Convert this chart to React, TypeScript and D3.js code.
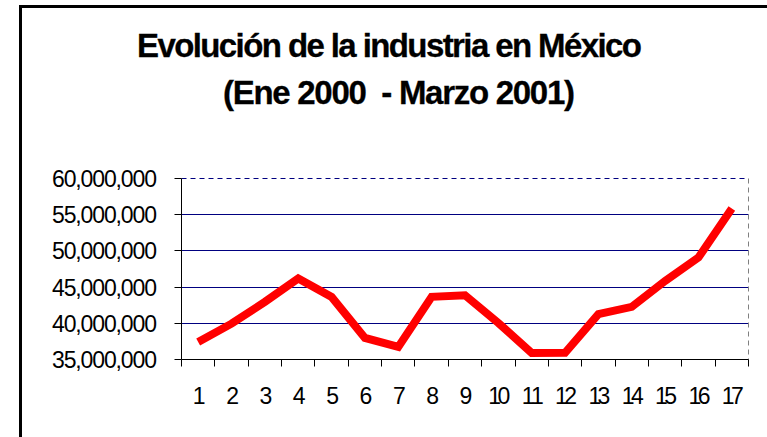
import React from "react";
import * as d3 from "d3";

const categories = ["1","2","3","4","5","6","7","8","9","10","11","12","13","14","15","16","17"];
const values = [37.43, 39.95, 42.96, 46.19, 43.65, 37.98, 36.74, 43.65, 43.88, 40.05, 35.91, 35.93, 41.26, 42.27, 45.86, 49.09, 55.86].map(v => v * 1e6);
const yTicks = [35e6, 40e6, 45e6, 50e6, 55e6, 60e6];
const titleLines = ["Evolución de la industria en México", "(Ene 2000  - Marzo 2001)"];

export default function App() {
  const W = 767, H = 437;
  const left = 181.5, right = 748.5, top = 178.5, bottom = 359.5;
  const x = d3.scaleBand<string>().domain(categories).range([left, right]).padding(0);
  const y = d3.scaleLinear().domain([35e6, 60e6]).range([bottom, top]);
  const fmt = d3.format(",");
  const line = d3.line<number>()
    .x((_, i) => (x(categories[i]) as number) + x.bandwidth() / 2)
    .y(d => y(d));
  const boundaries = d3.range(categories.length + 1).map(i => left + i * x.bandwidth());
  const snap = (v: number) => Math.round(v - 0.5) + 0.5;
  return (
    <svg width={W} height={H} style={{ position: "absolute", left: 0, top: 0, background: "#fff" }}
      fontFamily="'Liberation Sans', Arial, sans-serif">
      <rect x={0} y={0} width={W} height={H} fill="#fff" />
      <rect x={20.5} y={6.5} width={800} height={500} fill="none" stroke="#000" strokeWidth={3} />
      <text x={137} y={57} fontSize={33} fontWeight="bold" textLength={505} lengthAdjust="spacing"
        stroke="#000" strokeWidth={0.3}>{titleLines[0]}</text>
      <text x={223} y={104} fontSize={33} fontWeight="bold" textLength={352} lengthAdjust="spacing"
        stroke="#000" strokeWidth={0.3} style={{ whiteSpace: "pre" }}>{titleLines[1]}</text>
      {yTicks.map(t => {
        const yy = snap(y(t));
        const isTop = t === 60e6;
        return (
          <g key={t}>
            {t !== 35e6 && (
              <line x1={left} x2={right} y1={yy} y2={yy} stroke="#000080" strokeWidth={1}
                strokeDasharray={isTop ? "5,4" : undefined} />
            )}
            <line x1={left - 7} x2={left} y1={yy} y2={yy} stroke="#000" strokeWidth={1} />
            <text x={52} y={yy} dy="0.36em" fontSize={23}
              textLength={105} lengthAdjust="spacing">{fmt(t)}</text>
          </g>
        );
      })}
      <line x1={right} x2={right} y1={top} y2={bottom} stroke="#808080" strokeWidth={1} strokeDasharray="5,4" />
      <line x1={left} x2={left} y1={top} y2={bottom} stroke="#000" strokeWidth={1} />
      <line x1={left} x2={right} y1={bottom} y2={bottom} stroke="#000" strokeWidth={1} />
      {boundaries.map((b, i) => (
        <line key={i} x1={snap(b)} x2={snap(b)} y1={bottom} y2={bottom + 7} stroke="#000" strokeWidth={1} />
      ))}
      {categories.map(c => {
        const cx = (x(c) as number) + x.bandwidth() / 2 + 1;
        return c.length > 1 ? (
          <text key={c} x={cx - 11} y={404} fontSize={23} textLength={22} lengthAdjust="spacing">{c}</text>
        ) : (
          <text key={c} x={cx} y={404} textAnchor="middle" fontSize={23}>{c}</text>
        );
      })}
      <path d={line(values) || ""} fill="none" stroke="#ff0000" strokeWidth={8} strokeLinejoin="miter" />
    </svg>
  );
}
